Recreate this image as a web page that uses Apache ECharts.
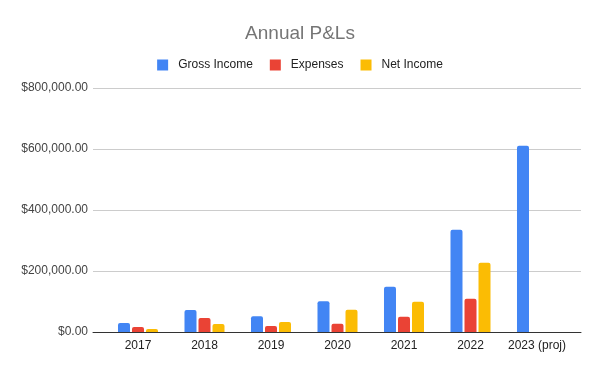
<!DOCTYPE html>
<html><head><meta charset="utf-8">
<script src="https://cdn.jsdelivr.net/npm/echarts@6/dist/echarts.min.js"></script>
<style>html,body{margin:0;padding:0;background:#fff}#c{width:600px;height:371px}</style>
</head><body><div id="c"></div>
<script>
const categories = ['2017','2018','2019','2020','2021','2022','2023 (proj)'];
const grossIncome = [29500, 72000, 52000, 101000, 148500, 335000, 611000];
const expenses = [16000, 46000, 20000, 27000, 50000, 109000, null];
const netIncome = [10000, 26000, 33000, 73000, 99000, 227000, null];
const yTicks = [0, 200000, 400000, 600000, 800000];

const fmt = v => '$' + v.toLocaleString('en-US', {minimumFractionDigits: 2, maximumFractionDigits: 2});
const font = '"Liberation Sans", Arial, sans-serif';
const chart = echarts.init(document.getElementById('c'));
const barCommon = {type: 'bar', xAxisIndex: 1, yAxisIndex: 1, barWidth: 12, barGap: '16.7%', itemStyle: {borderRadius: [2,2,0,0]}};
chart.setOption({
  animation: false,
  title: {text: 'Annual P&Ls', left: 'center', top: 19, textStyle: {fontFamily: font, fontSize: 19, fontWeight: 'normal', color: '#757575'}},
  legend: {top: 54, left: 'center', itemWidth: 11, itemHeight: 11, itemGap: 17, icon: 'rect',
    textStyle: {fontFamily: font, fontSize: 12, color: '#222', padding: [0, 0, 0, 5]}},
  color: ['#4285f4', '#ea4335', '#fbbc04'],
  grid: [
    {left: 93, right: 19, top: 88, bottom: 39},
    {left: 104.75, right: 29.75, top: 88, bottom: 39}
  ],
  xAxis: [
    {type: 'value', gridIndex: 0, min: 0, max: 1, show: true, axisLine: {show: true, onZero: false, lineStyle: {color: '#333', width: 1}}, axisTick: {show: false}, axisLabel: {show: false}, splitLine: {show: false}},
    {type: 'category', gridIndex: 1, data: categories, axisLine: {show: false}, axisTick: {show: false},
      axisLabel: {interval: 0, fontFamily: font, fontSize: 12, color: '#222', margin: 8}}
  ],
  yAxis: [
    {type: 'value', gridIndex: 0, min: yTicks[0], max: yTicks[yTicks.length-1], interval: 200000,
      axisLine: {show: false}, axisTick: {show: false},
      axisLabel: {fontFamily: font, fontSize: 12, color: '#444', margin: 5, formatter: fmt},
      splitLine: {lineStyle: {color: '#ccc', width: 1}}},
    {type: 'value', gridIndex: 1, min: yTicks[0], max: yTicks[yTicks.length-1], interval: 200000, show: false, splitLine: {show: false}}
  ],
  series: [
    Object.assign({name: 'Gross Income', data: grossIncome}, barCommon),
    Object.assign({name: 'Expenses', data: expenses}, barCommon),
    Object.assign({name: 'Net Income', data: netIncome}, barCommon)
  ]
});
</script></body></html>
